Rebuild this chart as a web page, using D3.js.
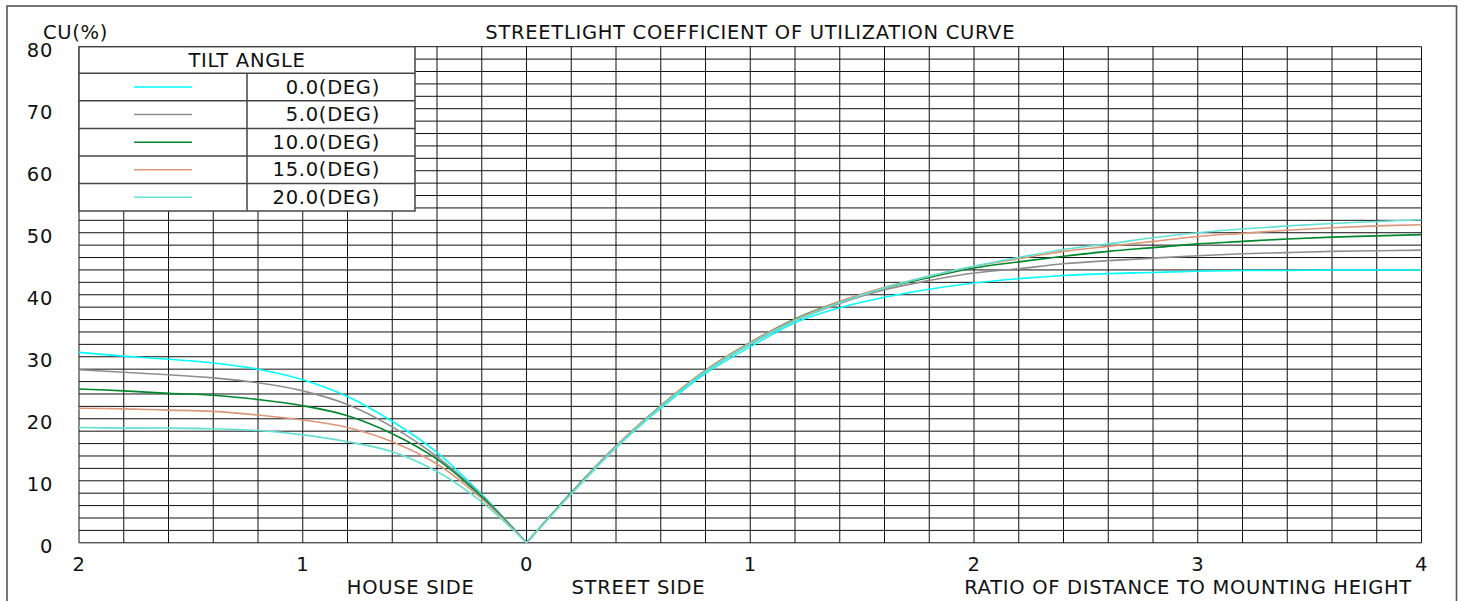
<!DOCTYPE html>
<html>
<head>
<meta charset="utf-8">
<script src="https://cdn.jsdelivr.net/npm/d3@7"></script>
<style>
  html, body { margin: 0; padding: 0; background: #fff; }
  svg { display: block; font-family: "DejaVu Sans", Verdana, sans-serif; }
  svg text { letter-spacing: 0.7px; }
</style>
</head>
<body>
<svg id="chart" width="1465" height="601"></svg>
<script>
// ---- data ----
const titleText = "STREETLIGHT COEFFICIENT OF UTILIZATION CURVE";
const yAxisTitle = "CU(%)";
const seriesNames = ["0.0(DEG)", "5.0(DEG)", "10.0(DEG)", "15.0(DEG)", "20.0(DEG)"];
const seriesColors = ["#00FFFF", "#8E8E8E", "#00862C", "#DA977A", "#63E0D3"];

// house side ratios (distance behind the pole)
const houseRatios = [0, 0.2, 0.4, 0.6, 0.8, 1.0, 1.2, 1.4, 1.6, 1.8, 2.0];
const house0  = [0, 7.8, 14.6, 19.6, 23.6, 26.3, 28.0, 29.0, 29.6, 30.1, 30.7];
const house5  = [0, 7.6, 13.9, 18.7, 22.3, 24.5, 25.8, 26.6, 27.1, 27.5, 27.9];
const house10 = [0, 7.4, 13.5, 17.6, 20.5, 22.1, 23.1, 23.8, 24.1, 24.5, 24.8];
const house15 = [0, 7.1, 12.7, 16.3, 18.6, 19.8, 20.6, 21.2, 21.4, 21.6, 21.7];
const house20 = [0, 6.6, 11.5, 14.7, 16.3, 17.4, 18.1, 18.4, 18.5, 18.5, 18.6];

// street side ratios
const streetRatios = [0, 0.2, 0.4, 0.6, 0.8, 1.0, 1.2, 1.4, 1.6, 1.8, 2.0, 2.2, 2.4, 2.6, 2.8, 3.0, 3.2, 3.4, 3.6, 3.8, 4.0];
const street0  = [0, 7.9, 15.3, 21.7, 27.3, 31.6, 35.5, 37.9, 39.6, 40.9, 41.9, 42.6, 43.1, 43.4, 43.6, 43.8, 43.9, 43.9, 44.0, 44.0, 44.0];
const street5  = [0, 8.0, 15.5, 22.0, 27.6, 32.0, 35.8, 38.6, 40.8, 42.3, 43.5, 44.2, 45.0, 45.5, 45.9, 46.3, 46.6, 46.8, 47.0, 47.1, 47.2];
const street10 = [0, 8.1, 15.6, 22.1, 27.8, 32.3, 36.1, 38.9, 41.1, 42.8, 44.3, 45.3, 46.2, 47.0, 47.6, 48.2, 48.6, 49.0, 49.3, 49.5, 49.7];
const street15 = [0, 8.0, 15.6, 22.1, 27.8, 32.3, 36.0, 38.9, 41.2, 43.0, 44.6, 45.8, 47.0, 47.8, 48.6, 49.4, 49.9, 50.4, 50.8, 51.1, 51.3];
const street20 = [0, 7.9, 15.4, 21.9, 27.6, 32.1, 35.8, 38.7, 41.1, 43.0, 44.6, 46.0, 47.3, 48.2, 49.2, 50.0, 50.6, 51.1, 51.5, 51.8, 52.1];

const houseValues = [house0, house5, house10, house15, house20];
const streetValues = [street0, street5, street10, street15, street20];

// axis ticks: signed position (house side negative) and label
const xTickValues = [-2, -1, 0, 1, 2, 3, 4];
const xTickLabels = ["2", "1", "0", "1", "2", "3", "4"];
const yTickValues = [0, 10, 20, 30, 40, 50, 60, 70, 80];
const houseLabel = "HOUSE SIDE";
const streetLabel = "STREET SIDE";
const ratioLabel = "RATIO OF DISTANCE TO MOUNTING HEIGHT";
const legendTitle = "TILT ANGLE";

// ---- drawing ----
const svg = d3.select("#chart");
const FONT = 19.5;
const x = d3.scaleLinear().domain([-2, 4]).range([79, 1421.5]);
const y = d3.scaleLinear().domain([0, 80]).range([542.8, 46.7]);

// outer frame
svg.append("rect")
  .attr("x", 7).attr("y", 6).attr("width", 1449.5).attr("height", 620)
  .attr("fill", "none").attr("stroke", "#555").attr("stroke-width", 1.6);

// grid
const grid = svg.append("g").attr("stroke", "#111").attr("stroke-width", 1);
const vTicks = d3.range(0, 31).map(i => -2 + i * 0.2);
const hTicks = d3.range(0, 41).map(i => i * 2);
grid.selectAll("line.v").data(vTicks).join("line")
  .attr("x1", d => x(d)).attr("x2", d => x(d))
  .attr("y1", y(80)).attr("y2", y(0));
grid.selectAll("line.h").data(hTicks).join("line")
  .attr("x1", x(-2)).attr("x2", x(4))
  .attr("y1", d => y(d)).attr("y2", d => y(d));

// curves
const line = d3.line().x(d => x(d[0])).y(d => y(d[1])).curve(d3.curveCatmullRom.alpha(0.5));
const curves = svg.append("g").attr("fill", "none").attr("stroke-width", 1.6);
seriesNames.forEach((name, i) => {
  const h = houseRatios.map((r, j) => [-r, houseValues[i][j]]).sort((a, b) => a[0] - b[0]);
  const s = streetRatios.map((r, j) => [r, streetValues[i][j]]);
  curves.append("path").attr("d", line(h)).attr("stroke", seriesColors[i]);
  curves.append("path").attr("d", line(s)).attr("stroke", seriesColors[i]);
});

// y tick labels
svg.append("g").selectAll("text").data(yTickValues).join("text")
  .attr("x", 53).attr("y", d => y(d) + 5)
  .attr("text-anchor", "end").attr("dominant-baseline", "middle")
  .attr("font-size", FONT).attr("fill", "#111")
  .text(d => d);

svg.append("text").attr("x", 43).attr("y", 33)
  .attr("dominant-baseline", "middle").attr("font-size", FONT).attr("fill", "#111")
  .text(yAxisTitle);

// x tick labels
svg.append("g").selectAll("text").data(xTickValues).join("text")
  .attr("x", d => x(d)).attr("y", 565.5)
  .attr("text-anchor", "middle").attr("dominant-baseline", "middle")
  .attr("font-size", FONT).attr("fill", "#111")
  .text((d, i) => xTickLabels[i]);

const AXY = 588.5;
svg.append("text").attr("x", x(0) - 52).attr("y", AXY)
  .attr("text-anchor", "end").attr("dominant-baseline", "middle")
  .attr("font-size", FONT).attr("fill", "#111").text(houseLabel);
svg.append("text").attr("x", x(0) + 45).attr("y", AXY)
  .attr("text-anchor", "start").attr("dominant-baseline", "middle")
  .attr("font-size", FONT).attr("fill", "#111").text(streetLabel);
svg.append("text").attr("x", 1412).attr("y", AXY)
  .attr("text-anchor", "end").attr("dominant-baseline", "middle")
  .attr("font-size", FONT).attr("fill", "#111").text(ratioLabel);

// title
svg.append("text").attr("x", (x(-2) + x(4)) / 2).attr("y", 33)
  .attr("text-anchor", "middle").attr("dominant-baseline", "middle")
  .attr("font-size", FONT).attr("fill", "#111").text(titleText);

// legend
const lg = svg.append("g");
const lx0 = x(-2), lx1 = 415, ly0 = y(80), ly1 = 211, ldiv = 247;
const headerH = 26.6;
const rowH = (ly1 - ly0 - headerH) / seriesNames.length;
lg.append("rect").attr("x", lx0).attr("y", ly0).attr("width", lx1 - lx0).attr("height", ly1 - ly0)
  .attr("fill", "#fff").attr("stroke", "#444").attr("stroke-width", 1.5);
lg.append("text").attr("x", (lx0 + lx1) / 2).attr("y", ly0 + headerH / 2 + 1)
  .attr("text-anchor", "middle").attr("dominant-baseline", "middle")
  .attr("font-size", FONT).attr("fill", "#111").text(legendTitle);
lg.append("line").attr("x1", ldiv).attr("x2", ldiv).attr("y1", ly0 + headerH).attr("y2", ly1)
  .attr("stroke", "#444").attr("stroke-width", 1.5);
seriesNames.forEach((name, i) => {
  const top = ly0 + headerH + i * rowH;
  lg.append("line").attr("x1", lx0).attr("x2", lx1).attr("y1", top).attr("y2", top)
    .attr("stroke", "#444").attr("stroke-width", 1.5);
  const cy = top + rowH / 2;
  lg.append("line").attr("x1", 134).attr("x2", 192).attr("y1", cy).attr("y2", cy)
    .attr("stroke", seriesColors[i]).attr("stroke-width", 1.5);
  lg.append("text").attr("x", 380).attr("y", cy + 1)
    .attr("text-anchor", "end").attr("dominant-baseline", "middle")
    .attr("font-size", FONT).attr("fill", "#111").text(name);
});
</script>
</body>
</html>
